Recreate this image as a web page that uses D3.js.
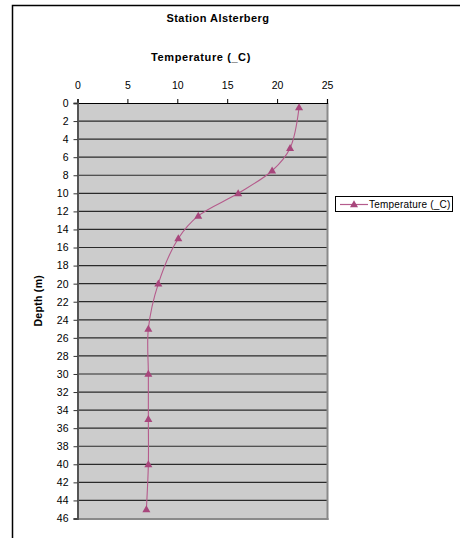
<!DOCTYPE html>
<html><head><meta charset="utf-8">
<script src="https://cdn.jsdelivr.net/npm/d3@7"></script>
<style>body{margin:0;background:#fff}svg{display:block}text{font-family:"Liberation Sans",Arial,sans-serif}</style>
</head><body>
<script>
const depths = [0.5, 5, 7.5, 10, 12.5, 15, 20, 25, 30, 35, 40, 45];
const temps  = [22.2, 21.3, 19.5, 16.1, 12.1, 10.1, 8.1, 7.1, 7.1, 7.1, 7.1, 6.9];
const xTicks = [0, 5, 10, 15, 20, 25];
const yTicks = d3.range(0, 47, 2);
const seriesName = "Temperature (_C)";

const W = 460, H = 538;
const svg = d3.select("body").append("svg").attr("width", W).attr("height", H);
// outer chart frame
svg.append("rect").attr("x", 12.5).attr("y", 5.5).attr("width", 470).attr("height", 560)
  .attr("fill", "#fff").attr("stroke", "#000").attr("stroke-width", 1.5);

const L = 77.5, R = 327, T = 103, B = 518.5;
const x = d3.scaleLinear().domain([0, 25]).range([L, R]);
const y = d3.scaleLinear().domain([0, 46]).range([T, B]);

// plot area
svg.append("rect").attr("x", L).attr("y", T).attr("width", R - L).attr("height", B - T).attr("fill", "#cccccc");
// grid
svg.append("g").selectAll("line").data(yTicks.slice(1)).join("line")
  .attr("x1", L).attr("x2", R).attr("y1", d => y(d)).attr("y2", d => y(d))
  .attr("stroke", "#2a2a2a").attr("stroke-width", 1.2);
// right & bottom shading border
svg.append("line").attr("x1", R + 0.5).attr("x2", R + 0.5).attr("y1", T).attr("y2", B + 1.5).attr("stroke", "#8a8a8a").attr("stroke-width", 2);
svg.append("line").attr("x1", L).attr("x2", R + 1.5).attr("y1", B + 0.5).attr("y2", B + 0.5).attr("stroke", "#8a8a8a").attr("stroke-width", 2);

// top axis
const xa = svg.append("g").attr("transform", `translate(0,${T})`)
  .call(d3.axisTop(x).tickValues(xTicks).tickSize(4).tickPadding(10));
xa.select(".domain").attr("stroke", "#000").attr("stroke-width", 1.2);
xa.selectAll(".tick line").attr("stroke", "#000");
xa.selectAll("text").attr("font-size", 10.5).attr("fill", "#000");

// left axis
const ya = svg.append("g").attr("transform", `translate(${L},0)`)
  .call(d3.axisLeft(y).tickValues(yTicks).tickSize(4).tickPadding(5));
ya.select(".domain").attr("stroke", "#555").attr("stroke-width", 2);
ya.selectAll(".tick line").attr("stroke", "#333");
ya.selectAll("text").attr("font-size", 10.5).attr("fill", "#000");

// series
const col = "#a8467c";
const pts = depths.map((d, i) => [x(temps[i]), y(d)]);
svg.append("path").attr("d", d3.line().curve(d3.curveCatmullRom.alpha(0.5))(pts))
  .attr("fill", "none").attr("stroke", "#b55b8c").attr("stroke-width", 1.1);
const tri = d3.symbol().type(d3.symbolTriangle).size(28);
svg.append("g").selectAll("path").data(pts).join("path")
  .attr("transform", d => `translate(${d[0]},${d[1] + 0.5})`).attr("d", tri).attr("fill", col);

// titles
svg.append("text").attr("x", 218).attr("y", 22).attr("text-anchor", "middle")
  .attr("font-size", 11).attr("letter-spacing", 0.45).attr("font-weight", "bold").text("Station Alsterberg");
svg.append("text").attr("x", 201).attr("y", 61).attr("text-anchor", "middle")
  .attr("font-size", 11).attr("letter-spacing", 0.6).attr("font-weight", "bold").text(seriesName);
svg.append("text").attr("transform", `translate(42,${(T + B) / 2 - 10}) rotate(-90)`).attr("text-anchor", "middle")
  .attr("font-size", 10.5).attr("letter-spacing", 0.3).attr("font-weight", "bold").text("Depth (m)");

// legend
const lg = svg.append("g").attr("transform", "translate(335,196)");
lg.append("rect").attr("x", 0.5).attr("y", 0.5).attr("width", 117).attr("height", 15).attr("fill", "#fff").attr("stroke", "#000");
lg.append("line").attr("x1", 5).attr("x2", 33).attr("y1", 8.5).attr("y2", 8.5).attr("stroke", "#b55b8c").attr("stroke-width", 1.2);
lg.append("path").attr("transform", "translate(19,9)").attr("d", tri).attr("fill", col);
lg.append("text").attr("x", 34).attr("y", 12).attr("font-size", 10).attr("letter-spacing", 0.2).text(seriesName);
</script>
</body></html>
